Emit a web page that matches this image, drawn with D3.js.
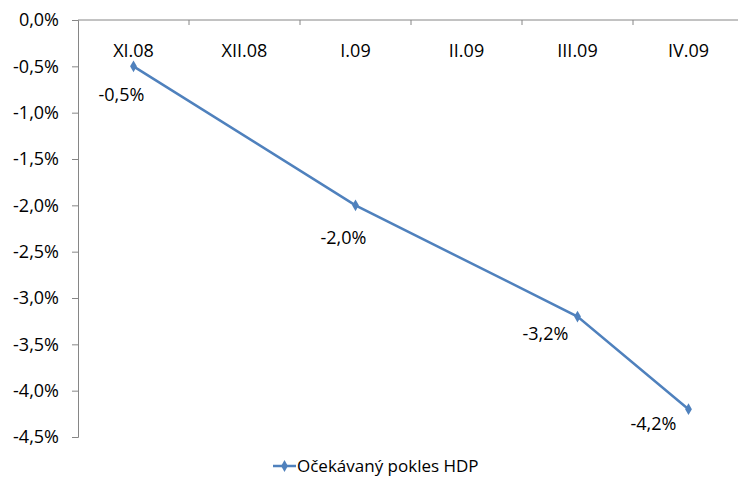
<!DOCTYPE html>
<html>
<head>
<meta charset="utf-8">
<script src="https://cdn.jsdelivr.net/npm/d3@7"></script>
<style>
  body { margin: 0; background: #fff; }
  text { font-family: "Open Sans", "Noto Sans", sans-serif; fill: #000; }
</style>
</head>
<body>
<script>
// data
const months = ["XI.08", "XII.08", "I.09", "II.09", "III.09", "IV.09"];
const pointMonths = ["XI.08", "I.09", "III.09", "IV.09"];
const pointValues = [-0.5, -2.0, -3.2, -4.2];
const yTicks = [0, -0.5, -1, -1.5, -2, -2.5, -3, -3.5, -4, -4.5];
const seriesName = "Očekávaný pokles HDP";

// hand placed data labels (dx, dy from point)
const labelOffsets = [[-12, 28], [-12, 32], [-32, 17], [-35, 14]];

let width = 738;
let height = 480;
let color = "#4f81bd";
let axisColor = "#868686";

let svg = d3.select("body").append("svg")
  .attr("width", width)
  .attr("height", height);

let xScale = d3.scaleBand()
  .domain(months)
  .range([78, 744])
  .padding(0);
let yScale = d3.scaleLinear()
  .domain([-4.5, 0])
  .range([437, 20]);

let fmt = (v) => d3.format(".1f")(v).replace(".", ",").replace("−", "-") + "%";

// y axis
let yAxis = d3.axisLeft(yScale)
  .tickValues(yTicks)
  .tickSize(6)
  .tickPadding(13)
  .tickFormat(fmt);
let gY = svg.append("g")
  .attr("transform", "translate(78,0)")
  .call(yAxis);
gY.select(".domain").attr("stroke", axisColor);
gY.selectAll(".tick line").attr("stroke", axisColor);
gY.selectAll(".tick text")
  .style("font-size", "18px")
  .attr("fill", "#000");

// category axis at zero (top)
svg.append("line")
  .attr("x1", 78).attr("x2", 744)
  .attr("y1", yScale(0)).attr("y2", yScale(0))
  .attr("stroke", axisColor);
svg.selectAll("line.cat-tick")
  .data(months.slice(1))
  .enter().append("line")
  .classed("cat-tick", true)
  .attr("x1", (d) => xScale(d))
  .attr("x2", (d) => xScale(d))
  .attr("y1", yScale(0))
  .attr("y2", yScale(0) + 5)
  .attr("stroke", axisColor);
svg.selectAll("text.cat-label")
  .data(months)
  .enter().append("text")
  .classed("cat-label", true)
  .attr("x", (d) => xScale(d) + xScale.bandwidth() / 2)
  .attr("y", 57)
  .attr("text-anchor", "middle")
  .style("font-size", "18px")
  .text((d) => d);

// series
let points = pointMonths.map((m, i) => ({
  x: xScale(m) + xScale.bandwidth() / 2,
  y: yScale(pointValues[i]),
  v: pointValues[i]
}));

svg.append("path")
  .datum(points)
  .attr("fill", "none")
  .attr("stroke", color)
  .attr("stroke-width", 2.5)
  .attr("d", d3.line().x((d) => d.x).y((d) => d.y));

let diamond = d3.symbol().type(d3.symbolDiamond).size(40);
svg.selectAll("path.marker")
  .data(points)
  .enter().append("path")
  .classed("marker", true)
  .attr("d", diamond)
  .attr("fill", color)
  .attr("transform", (d) => `translate(${d.x},${d.y})`);

svg.selectAll("text.data-label")
  .data(points)
  .enter().append("text")
  .classed("data-label", true)
  .attr("x", (d, i) => d.x + labelOffsets[i][0])
  .attr("y", (d, i) => d.y + labelOffsets[i][1])
  .attr("dy", "0.35em")
  .attr("text-anchor", "middle")
  .style("font-size", "18px")
  .text((d) => fmt(d.v));

// legend
let legend = svg.append("g").attr("transform", "translate(273,466)");
legend.append("line")
  .attr("x1", 0).attr("x2", 23)
  .attr("stroke", color)
  .attr("stroke-width", 2.5);
legend.append("path")
  .attr("d", diamond)
  .attr("fill", color)
  .attr("transform", "translate(11.5,0)");
legend.append("text")
  .attr("x", 24)
  .attr("dy", "0.35em")
  .style("font-size", "17px")
  .text(seriesName);
</script>
</body>
</html>
